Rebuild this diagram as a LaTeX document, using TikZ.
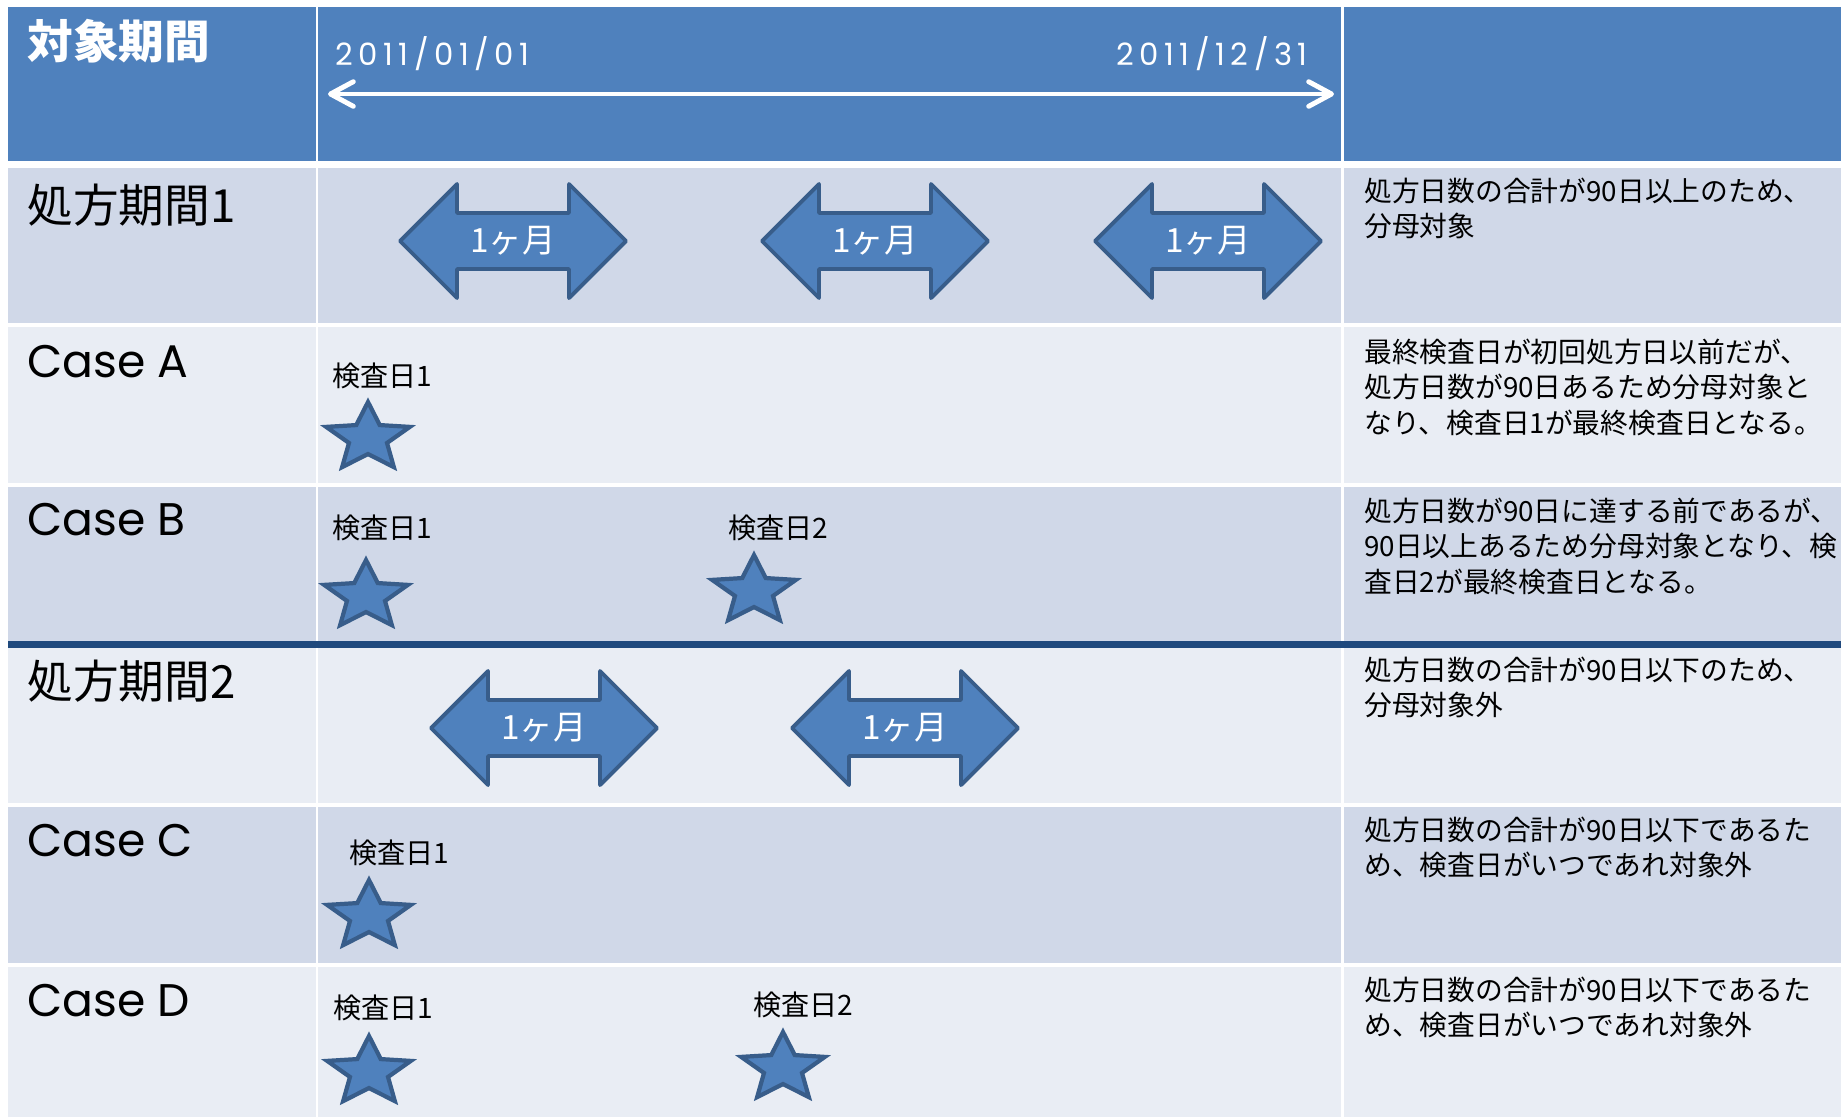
\documentclass[tikz,border=0pt]{standalone}
\usepackage{fontspec}
\setmainfont{Noto Sans CJK JP}
\newfontfamily\latinfont{Poppins}
\newfontfamily\datefont[LetterSpace=18]{Poppins}
\usetikzlibrary{arrows.meta}

\definecolor{headblue}{HTML}{4F81BD}
\definecolor{rowdark}{HTML}{D0D8E8}
\definecolor{rowlight}{HTML}{E9EDF4}
\definecolor{navyline}{HTML}{1F497D}
\definecolor{shapeblue}{HTML}{4F81BD}
\definecolor{shapeedge}{HTML}{385D8A}

% double arrow with a month label: name, x, y
\newcommand{\montharrow}[3]{%
  \begin{scope}[shift={(#2,#3)}]
    \draw[arrowshape] (-113,0) -- (-56,-57) -- (-56,-28) -- (56,-28) -- (56,-57)
      -- (113,0) -- (56,57) -- (56,28) -- (-56,28) -- (-56,57) -- cycle;
    \node[monthtext] (#1) at (0,0) {1ヶ月};
  \end{scope}}
% star for an exam day: name, x, y
\newcommand{\examstar}[3]{%
  \begin{scope}[shift={(#2,#3)}]
    \coordinate (#1) at (0,0);
    \draw[starmark] (270:44 and 36) -- (306:20 and 16) -- (342:44 and 36)
      -- (18:20 and 16) -- (54:44 and 36) -- (90:20 and 16) -- (126:44 and 36)
      -- (162:20 and 16) -- (198:44 and 36) -- (234:20 and 16) -- cycle;
  \end{scope}}

\begin{document}
\begin{tikzpicture}[x=0.02cm,y=-0.02cm,
% Table style
    gridline/.style={white,line width=1.7pt},
% Label styles
    rowlabel/.style={anchor=west,inner sep=0pt,font=\fontsize{26}{30}\selectfont},
    caselabel/.style={rowlabel,font=\latinfont\fontsize{26}{30}\selectfont},
    note/.style={anchor=north west,inner sep=0pt,align=left,
		font=\fontsize{15.8}{20}\selectfont},
    examlabel/.style={anchor=west,inner sep=0pt,font=\fontsize{16}{19}\selectfont},
    datelabel/.style={text=white,inner sep=0pt,
		font=\datefont\fontsize{17.5}{20}\selectfont},
% Shape styles
    starmark/.style={fill=shapeblue,draw=shapeedge,line width=2.4pt},
    arrowshape/.style={fill=shapeblue,draw=shapeedge,line width=2.2pt,
		line join=round},
    monthtext/.style={text=white,inner sep=0pt,font=\fontsize{19}{22}\selectfont},
    periodline/.style={white,line width=2.8pt,line cap=round,
		{Straight Barb[length=13pt,width=14pt,round]}-{Straight Barb[length=13pt,width=14pt,round]}}
    ]
    \useasboundingbox (0,0) rectangle (1841,1117);
%% Rows and grid
    \fill[headblue] (8,7) rectangle (1841,161);
    \foreach \top/\bot/\col in {168/323/rowdark,327/483/rowlight,487/641/rowdark,
		648/803/rowlight,807/963/rowdark,967/1117/rowlight}
	  \fill[\col] (8,\top) rectangle (1841,\bot);
    \draw[gridline] (317,7) -- (317,1117);
    \draw[gridline] (1342,7) -- (1342,1117);
    \draw[navyline,line width=4pt] (8,644.5) -- (1841,644.5);

%% Header
    \node[rowlabel,text=white,font=\bfseries\fontsize{26}{30}\selectfont]
		(target) at (27,41) {対象期間};
    \node[datelabel,anchor=west] (startdate) at (335,54) {2011/01/01};
    \node[datelabel,anchor=east] (enddate) at (1308,54) {2011/12/31};
    \coordinate (tstart) at (328,94);
    \coordinate (tend) at (1334,94);
    \draw[periodline] (tstart) -- (tend);

%% Row labels
    \node[rowlabel] (period1) at (27,205) {処方期間1};
    \node[caselabel] (casea) at (27,362) {Case A};
    \node[caselabel] (caseb) at (27,520) {Case B};
    \node[rowlabel] (period2) at (27,681) {処方期間2};
    \node[caselabel] (casec) at (27,841) {Case C};
    \node[caselabel] (cased) at (27,1001) {Case D};

%% Prescription periods
    \montharrow{m11}{513}{241}
    \montharrow{m12}{875}{241}
    \montharrow{m13}{1208}{241}
    \montharrow{m21}{544}{728}
    \montharrow{m22}{905}{728}

%% Exam days
    \node[examlabel] (la1) at (332,376) {検査日1};
    \examstar{sa1}{368}{438}
    \node[examlabel] (lb1) at (332,528) {検査日1};
    \examstar{sb1}{366}{596}
    \node[examlabel] (lb2) at (728,528) {検査日2};
    \examstar{sb2}{754}{591}
    \node[examlabel] (lc1) at (349,853) {検査日1};
    \examstar{sc1}{369}{916}
    \node[examlabel] (ld1) at (333,1008) {検査日1};
    \examstar{sd1}{369}{1072}
    \node[examlabel] (ld2) at (753,1005) {検査日2};
    \examstar{sd2}{783}{1068}

%% Notes
    \node[note] (note1) at (1364,178) {処方日数の合計が90日以上のため、\\分母対象};
    \node[note] (notea) at (1364,339) {最終検査日が初回処方日以前だが、\\
		処方日数が90日あるため分母対象と\\なり、検査日1が最終検査日となる。};
    \node[note] (noteb) at (1364,498) {処方日数が90日に達する前であるが、\\
		90日以上あるため分母対象となり、検\\査日2が最終検査日となる。};
    \node[note] (note2) at (1364,657) {処方日数の合計が90日以下のため、\\分母対象外};
    \node[note] (notec) at (1364,817) {処方日数の合計が90日以下であるた\\
		め、検査日がいつであれ対象外};
    \node[note] (noted) at (1364,977) {処方日数の合計が90日以下であるた\\
		め、検査日がいつであれ対象外};
\end{tikzpicture}
\end{document}
